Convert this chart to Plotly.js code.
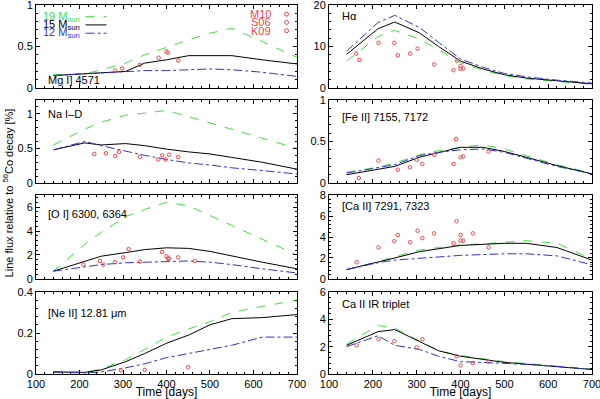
<!DOCTYPE html>
<html>
<head>
<meta charset="utf-8">
<script src="https://cdn.plot.ly/plotly-3.0.1.min.js"></script>
<style>
  body { margin: 0; background: #fff; }
  #plot { width: 600px; height: 399px; }
</style>
</head>
<body>
<div id="plot"></div>
<script>
// model epochs (days)
var days = [140, 212, 250, 306, 350, 400, 451, 500, 550, 620, 700];

// Mg I] 4571
var mg19 = [0.16, 0.17, 0.22, 0.30, 0.40, 0.49, 0.58, 0.66, 0.72, 0.56, 0.37];
var mg15 = [0.15, 0.17, 0.18, 0.20, 0.30, 0.34, 0.39, 0.39, 0.39, 0.34, 0.29];
var mg12 = [0.15, 0.17, 0.18, 0.20, 0.21, 0.21, 0.22, 0.23, 0.22, 0.19, 0.14];
var mgObsT = [282, 298, 339, 382, 400, 403, 427];
var mgObsV = [0.21, 0.235, 0.28, 0.365, 0.44, 0.425, 0.33];

// H alpha
var ha19 = [6.5, 12.4, 13.9, 11.8, 9.2, 6.1, 4.3, 3.0, 2.2, 1.6, 0.9];
var ha15 = [8.1, 14.3, 15.9, 13.3, 10.0, 6.5, 4.6, 3.2, 2.4, 1.7, 1.0];
var ha12 = [8.9, 15.8, 17.5, 14.6, 11.0, 7.0, 5.0, 3.5, 2.7, 1.9, 1.2];
var haObsT = [162, 169, 213, 249, 257, 285, 302, 340, 384, 392, 400, 400, 406];
var haObsV = [8.3, 6.8, 10.9, 10.9, 7.9, 8.3, 9.5, 5.7, 4.3, 6.6, 5.3, 4.6, 4.7];

// Na I-D
var na19 = [0.55, 0.78, 0.88, 0.98, 1.01, 1.05, 0.96, 0.87, 0.78, 0.65, 0.50];
var na15 = [0.48, 0.58, 0.55, 0.57, 0.54, 0.49, 0.45, 0.42, 0.37, 0.30, 0.20];
var na12 = [0.48, 0.60, 0.54, 0.46, 0.40, 0.34, 0.29, 0.26, 0.22, 0.18, 0.13];
var naObsT = [234, 261, 282, 291, 339, 381, 390, 398, 406, 427];
var naObsV = [0.42, 0.43, 0.39, 0.45, 0.38, 0.34, 0.40, 0.34, 0.41, 0.375];

// [Fe II] 7155, 7172
var fe19 = [0.13, 0.19, 0.24, 0.34, 0.39, 0.43, 0.46, 0.41, 0.33, 0.22, 0.12];
var fe15 = [0.10, 0.16, 0.20, 0.31, 0.37, 0.43, 0.43, 0.38, 0.31, 0.21, 0.11];
var fe12 = [0.12, 0.18, 0.22, 0.33, 0.37, 0.40, 0.41, 0.37, 0.30, 0.20, 0.11];
var feObsT = [168, 213, 257, 285, 300, 313, 340, 384, 390, 400, 406, 464];
var feObsV = [0.06, 0.27, 0.16, 0.19, 0.28, 0.23, 0.34, 0.23, 0.53, 0.31, 0.32, 0.38];

// [O I] 6300, 6364
var o19 = [0.65, 2.9, 3.9, 5.2, 5.8, 6.4, 6.1, 5.3, 4.5, 3.3, 2.0];
var o15 = [0.65, 1.5, 1.9, 2.2, 2.45, 2.6, 2.55, 2.3, 1.9, 1.4, 0.85];
var o12 = [0.65, 1.0, 1.2, 1.35, 1.4, 1.5, 1.5, 1.4, 1.2, 0.85, 0.5];
var oObsT = [209, 247, 255, 282, 300, 313, 339, 390, 400, 403, 406, 427, 465];
var oObsV = [1.2, 1.5, 1.2, 1.4, 1.8, 2.5, 1.45, 2.25, 1.9, 1.7, 1.7, 1.8, 1.5];

// [Ca II] 7291, 7323
var ca19 = [0.85, 1.7, 2.15, 2.75, 3.0, 3.25, 3.35, 3.5, 3.65, 3.4, 1.9];
var ca15 = [0.9, 1.6, 2.0, 2.6, 2.9, 3.2, 3.3, 3.4, 3.4, 3.0, 1.8];
var ca12 = [0.9, 1.55, 1.8, 2.0, 2.1, 2.25, 2.35, 2.4, 2.4, 2.2, 1.35];
var caObsT = [163, 213, 249, 257, 285, 302, 313, 340, 384, 391, 400, 400, 406, 428, 464];
var caObsV = [1.6, 3.0, 3.6, 4.2, 3.5, 4.6, 3.9, 4.35, 3.4, 5.5, 4.2, 3.65, 3.65, 4.35, 3.0];

// [Ne II] 12.81 micron
var ne19 = [0.01, 0.008, 0.025, 0.07, 0.12, 0.18, 0.22, 0.255, 0.30, 0.33, 0.36];
var ne15 = [0.01, 0.008, 0.02, 0.06, 0.10, 0.15, 0.19, 0.24, 0.27, 0.275, 0.29];
var ne12 = [0.01, 0.005, 0.01, 0.03, 0.05, 0.08, 0.10, 0.12, 0.14, 0.18, 0.18];
var neObsT = [295, 350, 450];
var neObsV = [0.018, 0.02, 0.033];

// Ca II IR triplet
var cir19 = [2.2, 3.55, 3.35, 2.4, 1.7, 1.35, 1.1, 0.9, 0.77, 0.58, 0.35];
var cir15 = [2.1, 3.1, 3.25, 2.35, 1.7, 1.3, 1.05, 0.85, 0.72, 0.55, 0.33];
var cir12 = [2.0, 2.8, 2.1, 1.8, 1.3, 0.9, 0.85, 0.8, 0.7, 0.55, 0.33];
var cirObsT = [163, 213, 249, 300, 313, 391, 400, 428, 464];
var cirObsV = [2.1, 2.55, 2.4, 1.95, 2.55, 1.3, 0.62, 0.8, 0.9];

var panels = [
  {m19: mg19, m15: mg15, m12: mg12, ot: mgObsT, ov: mgObsV, yr: [0, 1], dt: 0.5, label: "Mg I] 4571", ly: 0.1},
  {m19: ha19, m15: ha15, m12: ha12, ot: haObsT, ov: haObsV, yr: [0, 20], dt: 10, label: "H\u03b1", ly: 0.87},
  {m19: na19, m15: na15, m12: na12, ot: naObsT, ov: naObsV, yr: [0, 1.2], dt: 0.5, label: "Na I\u2013D", ly: 0.83},
  {m19: fe19, m15: fe15, m12: fe12, ot: feObsT, ov: feObsV, yr: [0, 1], dt: 0.5, label: "[Fe II] 7155, 7172", ly: 0.79},
  {m19: o19, m15: o15, m12: o12, ot: oObsT, ov: oObsV, yr: [0, 7], dt: 2, label: "[O I] 6300, 6364", ly: 0.77},
  {m19: ca19, m15: ca15, m12: ca12, ot: caObsT, ov: caObsV, yr: [0, 8], dt: 2, label: "[Ca II] 7291, 7323", ly: 0.87},
  {m19: ne19, m15: ne15, m12: ne12, ot: neObsT, ov: neObsV, yr: [0, 0.4], dt: 0.2, label: "[Ne II] 12.81 \u03bcm", ly: 0.74},
  {m19: cir19, m15: cir15, m12: cir12, ot: cirObsT, ov: cirObsV, yr: [0, 6], dt: 2, label: "Ca II IR triplet", ly: 0.85}
];

var green = "#44dd44", blue = "#3333cc", red = "#ee4444";
var font = {family: "Liberation Sans, Arial, sans-serif", size: 11, color: "#000"};

var xDom = [[0, 0.4694], [0.527, 1]];
var yDom = [[0.775, 1], [0.5176, 0.7425], [0.2575, 0.485], [0, 0.2222]];

var traces = [];
var layout = {
  width: 600, height: 399,
  margin: {l: 36, r: 8, t: 5, b: 25},
  paper_bgcolor: "#fff", plot_bgcolor: "#fff",
  showlegend: false,
  font: font,
  annotations: [],
  shapes: []
};

panels.forEach(function(p, i) {
  var n = i + 1;
  var xa = "x" + n, ya = "y" + n;
  traces.push({x: days, y: p.m19, xaxis: xa, yaxis: ya, mode: "lines",
    line: {color: green, width: 1, dash: "dash"}});
  traces.push({x: days, y: p.m15, xaxis: xa, yaxis: ya, mode: "lines",
    line: {color: "#000", width: 1}});
  traces.push({x: days, y: p.m12, xaxis: xa, yaxis: ya, mode: "lines",
    line: {color: blue, width: 1, dash: "dashdot"}});
  traces.push({x: p.ot, y: p.ov, xaxis: xa, yaxis: ya, mode: "markers",
    marker: {symbol: "circle-open", size: 3.5, color: red, line: {width: 1}}});

  var col = i % 2, row = Math.floor(i / 2);
  var bottom = row === 3;
  var xaxis = {
    domain: xDom[col], anchor: ya, range: [100, 700],
    dtick: 100, tick0: 100, ticks: "inside", ticklen: 4, tickcolor: "#000",
    minor: {dtick: 20, ticks: "inside", ticklen: 2, tickcolor: "#000"},
    showline: true, mirror: "ticks", linecolor: "#000", linewidth: 1,
    showgrid: false, zeroline: false, ticklabeloverflow: "allow",
    showticklabels: bottom, tickfont: font
  };
  if (bottom) {
    xaxis.title = {text: "Time [days]", font: {family: font.family, size: 12}, standoff: 1};
  }
  layout["xaxis" + n] = xaxis;
  layout["yaxis" + n] = {
    domain: yDom[row], anchor: xa, range: p.yr, dtick: p.dt, tick0: 0,
    ticks: "inside", ticklen: 4, tickcolor: "#000",
    minor: {dtick: p.dt / 5, ticks: "inside", ticklen: 2, tickcolor: "#000"},
    showline: true, mirror: "ticks", linecolor: "#000", linewidth: 1,
    showgrid: false, zeroline: false, ticklabeloverflow: "allow", tickfont: font
  };
  layout.annotations.push({
    xref: xa + " domain", yref: ya + " domain", x: 0.04, y: p.ly,
    xanchor: "left", yanchor: "middle", showarrow: false,
    text: p.label, font: {family: font.family, size: 11}
  });
});

// legend for models (panel 1)
var legModels = [
  {t: "19 M<sub>sun</sub>", c: green, d: "dash", y: 0.86},
  {t: "15 M<sub>sun</sub>", c: "#000", d: "solid", y: 0.76},
  {t: "12 M<sub>sun</sub>", c: blue, d: "dashdot", y: 0.66}
];
legModels.forEach(function(l) {
  layout.annotations.push({
    xref: "x1 domain", yref: "y1 domain", x: 0.02, y: l.y, xanchor: "left", yanchor: "middle",
    showarrow: false, text: l.t, font: {family: font.family, size: 11, color: l.c}
  });
  layout.shapes.push({
    type: "line", xref: "x1 domain", yref: "y1 domain", x0: 0.19, x1: 0.27, y0: l.y, y1: l.y,
    line: {color: l.c, width: 1, dash: l.d}
  });
});

// legend for observations (panel 1)
var legObs = [{t: "M10", y: 0.89}, {t: "S06", y: 0.79}, {t: "K09", y: 0.69}];
legObs.forEach(function(l) {
  layout.annotations.push({
    xref: "x1 domain", yref: "y1 domain", x: 0.91, y: l.y, xanchor: "right", yanchor: "middle",
    showarrow: false, text: l.t, font: {family: font.family, size: 11, color: red}
  });
  layout.shapes.push({
    type: "circle", xref: "x1 domain", yref: "y1 domain",
    xsizemode: "pixel", ysizemode: "pixel", xanchor: 0.96, yanchor: l.y,
    x0: -2, x1: 2, y0: -2, y1: 2, line: {color: red, width: 1}
  });
});

// shared y-axis title
layout.annotations.push({
  xref: "paper", yref: "paper", x: -0.05, y: 0.49, xanchor: "center", yanchor: "middle",
  textangle: -90, showarrow: false,
  text: "Line flux relative to <sup>56</sup>Co decay [%]", font: {family: font.family, size: 11}
});

Plotly.newPlot("plot", traces, layout, {staticPlot: true});
</script>
</body>
</html>
